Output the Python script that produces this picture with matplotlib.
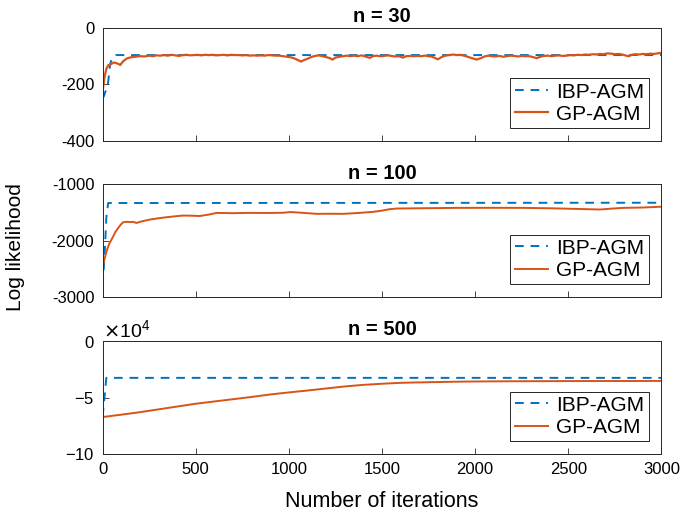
import numpy as np
import matplotlib
matplotlib.use("Agg")
import matplotlib.pyplot as plt
from matplotlib.ticker import ScalarFormatter

plt.rcParams['font.family'] = ['Liberation Sans', 'DejaVu Sans']
plt.rcParams['axes.unicode_minus'] = False

BLUE = (0.0, 0.447, 0.741)
ORANGE = (0.85, 0.325, 0.098)
AXC = (0.15, 0.15, 0.15)

titles = ["n = 30", "n = 100", "n = 500"]
x_ticks = [0, 500, 1000, 1500, 2000, 2500, 3000]

# n = 30
ibp30_it = [0, 8, 15, 25, 32, 40, 50, 60, 70, 3000]
ibp30_val = [-250, -240, -225, -215, -180, -130, -108, -100, -96, -96]
gp30_it = [0, 5, 10, 20, 30, 45, 60, 80, 95, 110, 130, 150, 175, 200, 225, 250,
           270, 290, 310, 330, 350, 370, 390, 410, 430, 450, 470, 490, 510, 530,
           550, 570, 590, 610, 630, 650, 670, 690, 710, 730, 750, 770, 790, 810,
           830, 850, 870, 890, 910, 930, 950, 970, 990, 1010, 1030, 1050, 1065,
           1080, 1100, 1120, 1140, 1160, 1180, 1200, 1220, 1235, 1250, 1270, 1290,
           1310, 1330, 1350, 1370, 1390, 1410, 1435, 1450, 1470, 1490, 1510, 1530,
           1550, 1570, 1590, 1612, 1630, 1650, 1670, 1690, 1710, 1730, 1750, 1770,
           1800, 1820, 1840, 1860, 1883, 1900, 1920, 1940, 1960, 1980, 2008, 2030,
           2050, 2070, 2090, 2110, 2130, 2150, 2170, 2190, 2210, 2230, 2250, 2270,
           2290, 2310, 2330, 2350, 2370, 2390, 2410, 2430, 2450, 2470, 2491, 2510,
           2530, 2550, 2570, 2590, 2610, 2630, 2650, 2670, 2690, 2710, 2730, 2750,
           2770, 2790, 2810, 2825, 2840, 2860, 2880, 2900, 2920, 2940, 2960, 2980,
           3000]
gp30_val = [-225, -200, -175, -145, -132, -128, -122, -126, -131, -118, -108, -104,
            -102, -100, -101, -98, -100, -97, -98, -96, -98, -95, -97, -99, -96,
            -95, -97, -96, -95, -97, -95, -96, -95, -97, -96, -95, -97, -95, -96,
            -96, -97, -96, -98, -97, -98, -97, -98, -96, -97, -98, -98, -100,
            -102, -104, -108, -114, -119, -114, -109, -103, -99, -97, -100, -103,
            -107, -112, -105, -102, -100, -98, -100, -98, -100, -97, -101, -106,
            -100, -98, -100, -99, -97, -99, -101, -100, -105, -100, -99, -100, -99,
            -100, -98, -100, -102, -111, -103, -98, -96, -94, -96, -95, -98, -102,
            -106, -112, -107, -101, -98, -100, -101, -99, -102, -100, -98, -99,
            -101, -99, -100, -100, -103, -107, -102, -99, -98, -100, -98, -97, -99,
            -98, -96, -97, -95, -96, -94, -95, -93, -94, -92, -93, -90, -91, -93,
            -92, -94, -98, -100, -95, -93, -94, -92, -93, -91, -92, -90, -88]

# n = 100
ibp100_it = [0, 10, 20, 30, 3000]
ibp100_val = [-2800, -2300, -1600, -1335, -1330]
gp100_it = [0, 10, 21, 35, 45, 57, 70, 84, 97, 110, 130, 150, 164, 182, 210, 254,
            300, 343, 390, 433, 480, 522, 570, 612, 700, 791, 880, 968, 1009, 1080,
            1150, 1220, 1292, 1370, 1452, 1500, 1540, 1578, 1700, 1800, 1900, 2100,
            2257, 2400, 2550, 2670, 2730, 2794, 2900, 3000]
gp100_val = [-2483, -2330, -2192, -2060, -2000, -1925, -1840, -1776, -1720, -1676,
             -1668, -1672, -1670, -1688, -1660, -1628, -1605, -1587, -1570, -1557,
             -1560, -1565, -1540, -1510, -1515, -1510, -1512, -1508, -1495, -1510,
             -1527, -1525, -1527, -1512, -1492, -1470, -1445, -1433, -1428, -1425,
             -1421, -1420, -1421, -1428, -1440, -1450, -1435, -1421, -1415, -1400]

# n = 500
ibp500_it = [0, 10, 20, 3000]
ibp500_val = [-67000, -50000, -32600, -32600]
gp500_it = [0, 100, 200, 300, 400, 500, 600, 700, 800, 900, 1000, 1100, 1200, 1300,
            1400, 1500, 1600, 1700, 1800, 1900, 2000, 2200, 2400, 2600, 2800, 3000]
gp500_val = [-67300, -65200, -63000, -60500, -58000, -55500, -53500, -51500, -49500,
             -47300, -45500, -43800, -42000, -40200, -38800, -37800, -37000, -36600,
             -36300, -36000, -35800, -35600, -35500, -35400, -35400, -35300]

panels = [
    (ibp30_it, ibp30_val, gp30_it, gp30_val, (-400, 0), [-400, -200, 0]),
    (ibp100_it, ibp100_val, gp100_it, gp100_val, (-3000, -1000), [-3000, -2000, -1000]),
    (ibp500_it, ibp500_val, gp500_it, gp500_val, (-100000, 0), [-100000, -50000, 0]),
]

fig = plt.figure(figsize=(6.84, 5.18), dpi=100)
bottoms = [0.728, 0.4266, 0.1236]

for i, (bi, bv, gi, gv, ylim, yt) in enumerate(panels):
    ax = fig.add_axes([0.150, bottoms[i], 0.817, 0.218])
    ax.plot(bi, bv, color=BLUE, lw=1.4, dashes=(4.5, 3.5), label='IBP-AGM')
    ax.plot(gi, gv, color=ORANGE, lw=1.6 if i == 0 else 1.4, label='GP-AGM')
    ax.set_xlim(0, 3000)
    ax.set_ylim(*ylim)
    ax.set_xticks(x_ticks)
    ax.set_yticks(yt)
    ax.set_title(titles[i], fontsize=14.5, fontweight='bold', pad=4)
    ax.tick_params(direction='in', length=4, width=0.6, colors=AXC,
                   labelsize=12, labelcolor='black', pad=6)
    for s in ax.spines.values():
        s.set_color(AXC)
        s.set_linewidth(0.7)
    if i < 2:
        ax.set_xticklabels([])
    else:
        ax.set_xticklabels([str(t) for t in x_ticks])
        ax.set_xlabel("Number of iterations", fontsize=15.5, labelpad=10)
        fmt = ScalarFormatter(useMathText=True)
        fmt.set_powerlimits((4, 4))
        ax.yaxis.set_major_formatter(fmt)
        ax.yaxis.get_offset_text().set_fontsize(14)
    leg = ax.legend(loc='lower right', bbox_to_anchor=(0.977, 0.115),
                    borderaxespad=0, fontsize=15, fancybox=False,
                    edgecolor=AXC, framealpha=1, handlelength=1.6,
                    borderpad=0.2, labelspacing=0.15, handletextpad=0.4)
    leg.get_frame().set_linewidth(0.7)

fig.text(0.022, 0.524, "Log likelihood", rotation=90, fontsize=15,
         ha='center', va='center')

fig.savefig("out.png", dpi=100)
